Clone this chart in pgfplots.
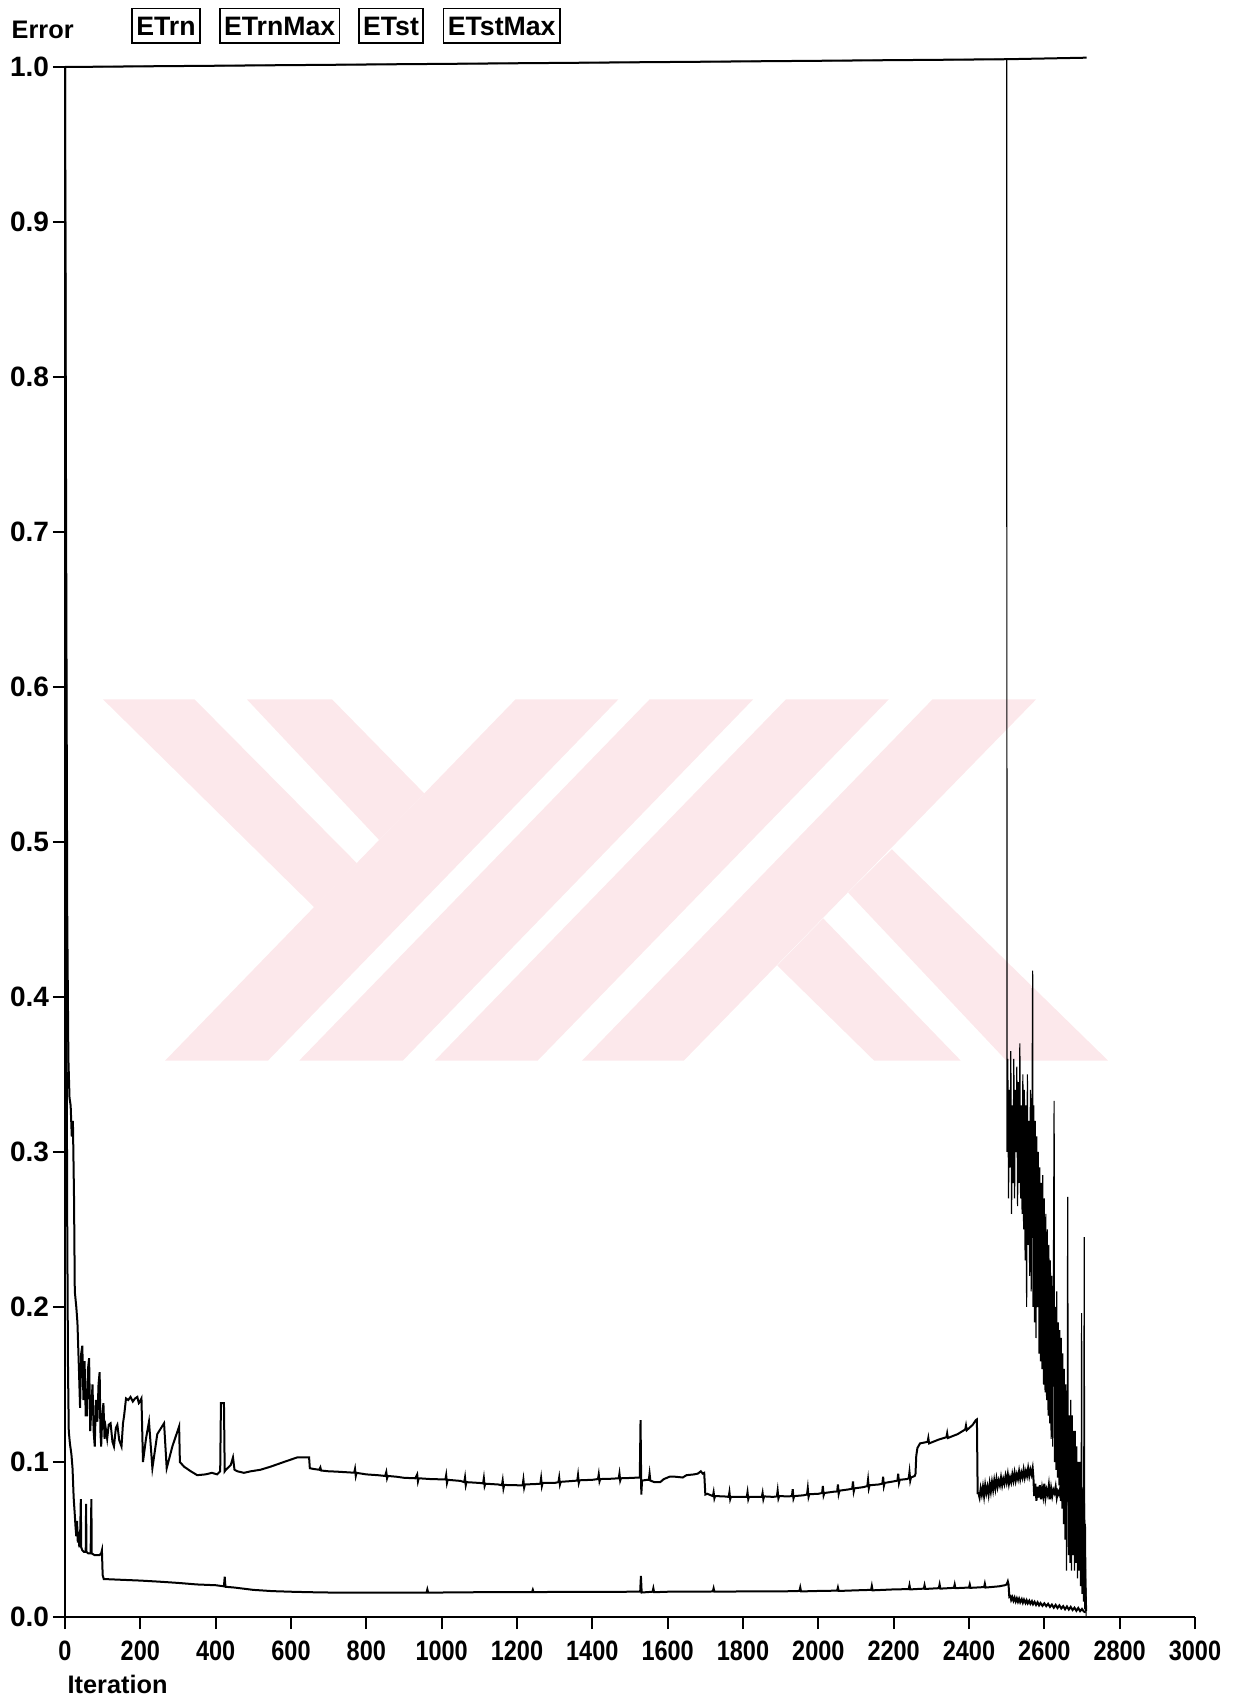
\documentclass[border=0pt]{standalone}
\usepackage{pgfplots}
\pgfplotsset{compat=1.18}
\usepackage{graphicx}
\usepackage{fontspec}
\setmainfont{Liberation Sans}
\definecolor{wm}{RGB}{252,232,235}
\newcommand{\tl}[1]{\scalebox{0.84}[1]{#1}}

\begin{document}
\begin{tikzpicture}
\useasboundingbox (-19.5pt,-25.8pt) rectangle (352.2pt,485.1pt);
\begin{axis}[
  at={(0pt,0pt)}, anchor=south west,
  scale only axis, width=339pt, height=465pt,
  xmin=0, xmax=3000, ymin=0, ymax=1,
  clip=false,
  axis x line*=bottom, axis y line*=left,
  axis line style={-, line width=0.8pt},
  tick align=outside, major tick length=3.6pt,
  tick style={black, line width=0.6pt},
  xtick={0,200,400,600,800,1000,1200,1400,1600,1800,2000,2200,2400,2600,2800,3000},
  xticklabels={\tl{0},\tl{200},\tl{400},\tl{600},\tl{800},\tl{1000},\tl{1200},\tl{1400},\tl{1600},\tl{1800},\tl{2000},\tl{2200},\tl{2400},\tl{2600},\tl{2800},\tl{3000}},
  ytick={0,0.1,0.2,0.3,0.4,0.5,0.6,0.7,0.8,0.9,1.0},
  yticklabels={0.0,0.1,0.2,0.3,0.4,0.5,0.6,0.7,0.8,0.9,1.0},
  tick label style={font=\bfseries\fontsize{8.4}{10}\selectfont},
  yticklabel style={inner sep=1pt},
]
% faint YK emblem in the background
\addplot[fill=wm, draw=none, forget plot] coordinates {(1196,0.592) (1469,0.592) (539,0.359) (266,0.359)};
\addplot[fill=wm, draw=none, forget plot] coordinates {(1552,0.592) (1827,0.592) (897,0.359) (622,0.359)};
\addplot[fill=wm, draw=none, forget plot] coordinates {(1914,0.592) (2187,0.592) (1255,0.359) (982,0.359)};
\addplot[fill=wm, draw=none, forget plot] coordinates {(2303,0.592) (2578,0.592) (1643,0.359) (1373,0.359)};
\addplot[fill=wm, draw=none, forget plot] coordinates {(101,0.592) (344,0.592) (775,0.4863) (662,0.4578)};
\addplot[fill=wm, draw=none, forget plot] coordinates {(483,0.592) (709,0.592) (954,0.5313) (834,0.5013)};
\addplot[fill=wm, draw=none, forget plot] coordinates {(2013,0.4507) (2378,0.359) (2148,0.359) (1891,0.4203)};
\addplot[fill=wm, draw=none, forget plot] coordinates {(2195,0.4953) (2769,0.359) (2499,0.359) (2079,0.4674)};

% ETstMax
\addplot[black, line width=0.6pt] coordinates {(0,1.0) (2500,1.005) (2712,1.006)};

% ETst
\addplot[black, line width=0.35pt] coordinates {
(0,1.0)(2500,1.005)(2501,0.30)
(2503,0.36)(2505,0.27)(2507,0.34)(2509,0.29)(2511,0.365)(2513,0.26)(2515,0.33)(2517,0.28)(2519,0.36)(2521,0.27)
(2523,0.34)(2525,0.30)(2527,0.355)(2529,0.265)(2531,0.345)(2533,0.28)(2535,0.37)(2537,0.27)(2539,0.33)(2541,0.26)
(2543,0.35)(2545,0.25)(2547,0.34)(2549,0.23)(2551,0.33)(2553,0.20)(2555,0.35)(2557,0.24)(2559,0.32)(2561,0.22)
(2563,0.34)(2565,0.21)(2567,0.31)(2569,0.417)(2570,0.20)(2572,0.33)(2574,0.19)(2576,0.32)(2578,0.18)(2580,0.31)
(2582,0.20)(2584,0.30)(2586,0.17)(2588,0.29)(2590,0.165)(2592,0.28)(2594,0.16)(2596,0.285)(2598,0.15)(2600,0.27)
(2602,0.145)(2604,0.26)(2606,0.14)(2608,0.25)(2610,0.13)(2612,0.24)(2614,0.125)(2616,0.23)(2618,0.115)(2620,0.22)
(2622,0.11)(2624,0.21)(2626,0.333)(2627,0.10)(2629,0.20)(2631,0.095)(2633,0.21)(2635,0.09)(2637,0.19)(2639,0.085)
(2641,0.185)(2643,0.075)(2645,0.18)(2647,0.07)(2649,0.17)(2651,0.06)(2653,0.16)(2655,0.05)(2657,0.15)(2659,0.03)
(2661,0.14)(2662,0.271)(2664,0.04)(2666,0.13)(2668,0.035)(2670,0.14)(2672,0.03)(2674,0.13)(2676,0.04)(2678,0.12)
(2680,0.03)(2682,0.12)(2684,0.035)(2686,0.11)(2688,0.025)(2690,0.10)(2692,0.03)(2694,0.10)(2696,0.02)(2698,0.09)
(2699,0.196)(2700,0.015)(2702,0.08)(2704,0.01)(2706,0.245)(2707,0.005)(2709,0.06)(2711,0.0)
};

% ETrnMax
\addplot[black, line width=0.6pt] coordinates {
(0,1.0)(3,0.7)(6,0.45)(9,0.36)(12,0.335)(15,0.33)(18,0.31)(21,0.32)(24,0.27)(26,0.21)(30,0.2)(33,0.19)(37,0.16)
(40,0.135)(43,0.17)(46,0.175)(49,0.14)(52,0.165)(55,0.13)(58,0.13)(61,0.16)(64,0.167)(67,0.12)(70,0.135)(73,0.15)
(76,0.12)(79,0.11)(82,0.14)(86,0.126)(89,0.15)(92,0.158)(94,0.12)(96,0.11)(99,0.13)(102,0.138)(105,0.115)(108,0.122)
(112,0.115)(116,0.124)(121,0.125)(126,0.113)(130,0.11)(135,0.122)(139,0.124)(144,0.114)(150,0.11)(154,0.125)(157,0.13)
(162,0.141)(168,0.14)(174,0.142)(180,0.139)(186,0.141)(192,0.142)(196,0.138)(199,0.139)(203,0.141)(207,0.1)(215,0.115)
(223,0.126)(232,0.096)(245,0.118)(263,0.125)(270,0.096)(285,0.11)(303,0.123)(305,0.1)(316,0.097)(334,0.094)(351,0.0915)
(373,0.092)(390,0.093)(404,0.092)(412,0.094)(414,0.138)(422,0.138)(424,0.094)(427,0.095)(440,0.098)(446,0.103)(450,0.095)
(458,0.094)(475,0.093)(493,0.094)(519,0.095)(546,0.097)(581,0.100)(617,0.103)(640,0.103)(648,0.103)
(650,0.096)(660,0.0955)(675,0.095)(678,0.0965)(680,0.0945)(700,0.094)(720,0.0938)(740,0.0935)(760,0.0932)(768,0.0932)
(770,0.0955)(772,0.091)(774,0.093)(800,0.092)(830,0.0915)(850,0.091)(853,0.0935)(855,0.0895)(857,0.091)(880,0.0905)
(900,0.0898)(930,0.0895)(935,0.092)(937,0.0875)(939,0.0895)(970,0.089)(1000,0.0888)(1010,0.0888)(1012,0.0915)(1014,0.0865)
(1016,0.0885)(1050,0.0878)(1060,0.087)(1062,0.090)(1064,0.085)(1066,0.087)(1100,0.0865)(1110,0.0862)(1112,0.0895)
(1114,0.0845)(1116,0.086)(1150,0.0855)(1160,0.085)(1162,0.088)(1164,0.083)(1166,0.0852)(1200,0.085)(1215,0.085)
(1217,0.0885)(1219,0.0835)(1221,0.0855)(1250,0.0858)(1262,0.086)(1264,0.0895)(1266,0.0845)(1268,0.0865)(1300,0.0865)
(1310,0.087)(1312,0.090)(1314,0.0855)(1316,0.0872)(1350,0.0878)(1360,0.088)(1362,0.0915)(1364,0.0865)(1366,0.0882)
(1400,0.0885)(1415,0.089)(1417,0.092)(1419,0.0875)(1421,0.089)(1450,0.0892)(1470,0.0895)(1472,0.0925)(1474,0.088)
(1476,0.0895)(1500,0.0897)(1526,0.090)(1528,0.127)(1530,0.079)(1532,0.088)(1545,0.0885)(1550,0.0885)(1552,0.0925)
(1554,0.088)(1565,0.087)(1580,0.087)(1590,0.089)(1605,0.0905)(1620,0.0905)(1640,0.090)(1650,0.0915)(1670,0.092)
(1680,0.0925)(1688,0.094)(1693,0.0925)(1697,0.093)(1700,0.079)(1705,0.0795)(1720,0.078)(1722,0.0805)(1724,0.0765)
(1726,0.078)(1750,0.0778)(1762,0.0775)(1764,0.0805)(1766,0.076)(1768,0.0775)(1800,0.0775)(1810,0.0775)(1812,0.0805)
(1814,0.076)(1816,0.0775)(1840,0.0775)(1850,0.0775)(1852,0.080)(1854,0.076)(1856,0.0778)(1880,0.0775)(1890,0.0778)
(1892,0.0815)(1894,0.0765)(1896,0.078)(1920,0.0778)(1930,0.078)(1932,0.0825)(1934,0.0765)(1936,0.078)(1960,0.0785)
(1970,0.079)(1972,0.083)(1974,0.0775)(1976,0.0792)(2000,0.0795)(2010,0.080)(2012,0.0845)(2014,0.0785)(2016,0.080)
(2040,0.0808)(2050,0.081)(2052,0.0855)(2054,0.0795)(2056,0.0815)(2080,0.0823)(2090,0.0828)(2092,0.0875)(2094,0.081)
(2096,0.083)(2120,0.0838)(2130,0.0845)(2132,0.0885)(2134,0.083)(2136,0.085)(2160,0.0855)(2170,0.086)(2172,0.0905)
(2174,0.0845)(2176,0.0865)(2200,0.0875)(2210,0.088)(2212,0.0925)(2214,0.0865)(2216,0.0885)(2235,0.089)(2240,0.0895)
(2242,0.0935)(2244,0.088)(2246,0.090)(2256,0.091)(2258,0.0925)(2260,0.104)(2263,0.109)(2270,0.112)(2290,0.113)
(2292,0.1155)(2294,0.112)(2320,0.1145)(2340,0.116)(2342,0.1185)(2344,0.1155)(2370,0.118)(2390,0.121)(2392,0.1235)
(2394,0.1205)(2410,0.124)(2418,0.127)(2421,0.1275)(2423,0.080)
(2425,0.080)(2428,0.077)(2431,0.083)(2434,0.079)(2437,0.084)(2440,0.078)(2443,0.085)(2446,0.080)(2449,0.084)(2452,0.079)
(2455,0.086)(2458,0.081)(2461,0.087)(2464,0.082)(2467,0.088)(2470,0.083)(2473,0.089)(2476,0.084)(2479,0.088)(2482,0.085)
(2485,0.090)(2488,0.085)(2491,0.089)(2494,0.086)(2497,0.091)(2500,0.087)(2503,0.092)(2506,0.086)(2509,0.090)(2512,0.087)
(2515,0.092)(2518,0.088)(2521,0.093)(2524,0.088)(2527,0.092)(2530,0.089)(2533,0.094)(2536,0.089)(2539,0.093)(2542,0.090)
(2545,0.095)(2548,0.090)(2551,0.094)(2554,0.091)(2557,0.096)(2560,0.091)(2563,0.095)(2566,0.092)(2569,0.096)(2571,0.090)
(2573,0.078)(2576,0.086)(2579,0.075)(2582,0.084)(2585,0.077)(2588,0.085)(2591,0.076)(2594,0.083)(2597,0.078)(2600,0.086)
(2603,0.077)(2606,0.082)(2609,0.079)(2612,0.085)(2615,0.076)(2618,0.083)(2621,0.078)(2624,0.082)(2627,0.080)(2630,0.084)
(2633,0.077)(2636,0.081)(2639,0.079)(2642,0.083)(2645,0.078)(2648,0.082)(2651,0.076)(2654,0.083)(2657,0.079)(2660,0.085)
(2663,0.077)(2666,0.082)(2669,0.078)(2672,0.084)(2675,0.077)(2678,0.081)(2681,0.079)(2684,0.083)(2687,0.076)(2690,0.082)
(2693,0.078)(2696,0.084)(2699,0.077)(2702,0.081)(2705,0.078)(2708,0.03)(2711,0.004)
};

% ETrn
\addplot[black, line width=0.6pt] coordinates {
(0,1.0)(2,0.7)(4,0.4)(6,0.25)(8,0.16)(10,0.12)(13,0.112)(17,0.105)(20,0.096)(23,0.077)(26,0.066)(28,0.058)(30,0.052)
(32,0.062)(34,0.048)(36,0.055)(38,0.045)(40,0.050)(42,0.076)(43,0.045)(46,0.043)(50,0.042)(55,0.042)(56,0.073)(57,0.042)
(62,0.041)(68,0.041)(70,0.076)(71,0.041)(78,0.040)(85,0.040)(92,0.040)(96,0.041)(98,0.043)(100,0.027)(103,0.0245)
(150,0.024)(200,0.0235)(250,0.0228)(300,0.022)(350,0.021)(400,0.0205)(422,0.0198)(424,0.026)(426,0.0195)(450,0.019)
(500,0.0175)(550,0.0167)(600,0.0163)(650,0.016)(700,0.0158)(800,0.0158)(900,0.0158)(960,0.0158)(962,0.0178)(964,0.0158)
(1000,0.0158)(1100,0.016)(1200,0.016)(1240,0.016)(1242,0.0175)(1244,0.016)(1300,0.0162)(1400,0.0162)(1500,0.0163)
(1527,0.0163)(1529,0.0265)(1531,0.0158)(1560,0.0163)(1562,0.0185)(1564,0.016)(1600,0.0163)(1700,0.0163)(1720,0.0165)
(1722,0.0185)(1724,0.0163)(1800,0.0165)(1900,0.0165)(1950,0.0168)(1952,0.019)(1954,0.0165)(2000,0.0168)(2050,0.017)
(2052,0.019)(2054,0.0168)(2100,0.0172)(2140,0.0175)(2142,0.020)(2144,0.0172)(2200,0.0178)(2240,0.018)(2242,0.0205)
(2244,0.0178)(2280,0.0183)(2282,0.0205)(2284,0.0181)(2320,0.0186)(2322,0.021)(2324,0.0183)(2360,0.0188)(2362,0.021)
(2364,0.0186)(2400,0.019)(2402,0.021)(2404,0.0188)(2440,0.0193)(2442,0.0215)(2444,0.019)(2480,0.0198)(2495,0.0205)
(2500,0.021)(2503,0.023)(2505,0.021)(2507,0.013)(2510,0.0135)(2512,0.011)(2515,0.0128)(2518,0.0105)(2521,0.0125)
(2524,0.010)(2527,0.012)(2530,0.0098)(2533,0.0118)(2536,0.0095)(2540,0.0115)(2543,0.0092)(2546,0.0112)(2550,0.009)
(2553,0.0108)(2556,0.0088)(2560,0.0105)(2563,0.0085)(2567,0.0102)(2570,0.0082)(2574,0.0098)(2578,0.0078)(2582,0.0095)
(2586,0.0075)(2590,0.009)(2595,0.0072)(2600,0.0088)(2605,0.007)(2610,0.0085)(2615,0.0065)(2620,0.008)(2625,0.006)
(2630,0.0078)(2635,0.0058)(2640,0.0075)(2645,0.0055)(2650,0.007)(2655,0.005)(2660,0.0068)(2665,0.0048)(2670,0.0065)
(2675,0.0045)(2680,0.006)(2685,0.004)(2690,0.0058)(2695,0.0038)(2700,0.0052)(2705,0.0035)(2710,0.003)
};
\end{axis}

% axis title and series boxes
\node[anchor=west, inner sep=0pt, font=\bfseries\fontsize{7.6}{9}\selectfont] at (-16.2pt,476pt) {Error};
\begin{scope}[every node/.style={draw, line width=0.5pt, inner sep=1.3pt, minimum height=10.4pt,
    font=\bfseries\fontsize{8}{9.6}\selectfont}]
  \node at (30.3pt,477.3pt) {ETrn};
  \node at (64.4pt,477.3pt) {ETrnMax};
  \node at (97.8pt,477.3pt) {ETst};
  \node at (131.0pt,477.3pt) {ETstMax};
\end{scope}
\node[anchor=west, inner sep=0pt, font=\bfseries\fontsize{7.6}{9}\selectfont] at (0.6pt,-20.1pt) {Iteration};
\end{tikzpicture}
\end{document}
